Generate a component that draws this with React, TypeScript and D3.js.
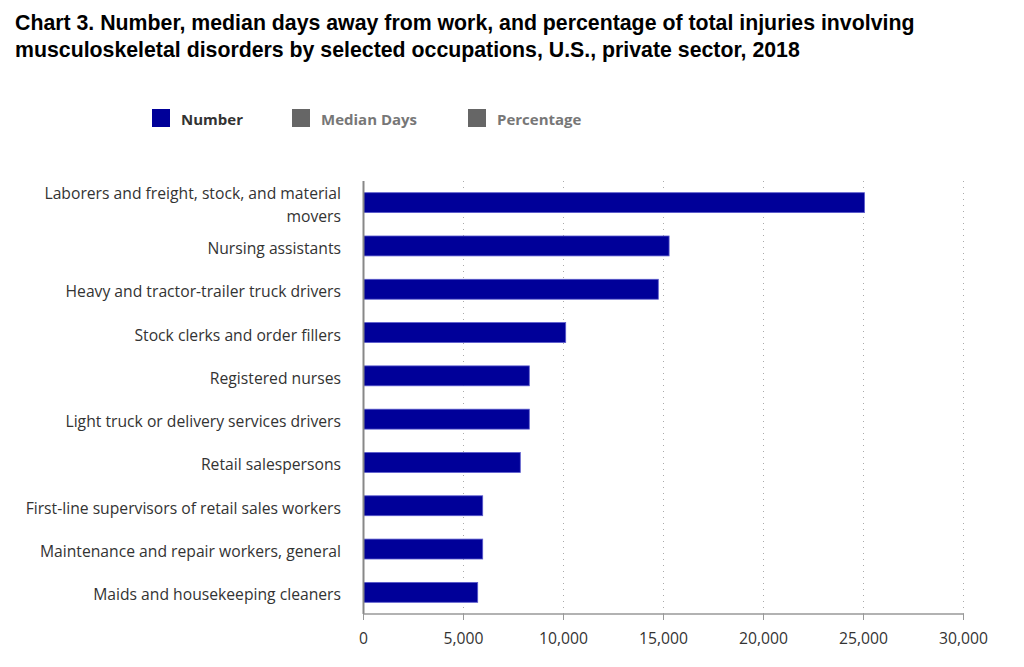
import React from "react";
import * as d3 from "d3";

const categories = [
  "Laborers and freight, stock, and material movers",
  "Nursing assistants",
  "Heavy and tractor-trailer truck drivers",
  "Stock clerks and order fillers",
  "Registered nurses",
  "Light truck or delivery services drivers",
  "Retail salespersons",
  "First-line supervisors of retail sales workers",
  "Maintenance and repair workers, general",
  "Maids and housekeeping cleaners",
];
const labelLines = [
  ["Laborers and freight, stock, and material", "movers"],
];
const numberValues = [25050, 15280, 14740, 10110, 8290, 8290, 7840, 5960, 5960, 5710];
const xTicks = [0, 5000, 10000, 15000, 20000, 25000, 30000];
const legendItems = ["Number", "Median Days", "Percentage"];
const titleLines = [
  "Chart 3. Number, median days away from work, and percentage of total injuries involving",
  "musculoskeletal disorders by selected occupations, U.S., private sector, 2018",
];

const W = 1024;
const H = 667;
const M = { left: 363.5, right: 963.5, top: 181, bottom: 614 };
const labelFont = "'Open Sans', 'Noto Sans', sans-serif";

export default function App() {
  const x = d3.scaleLinear().domain([0, 30000]).range([M.left, M.right]);
  const y = d3
    .scaleBand<string>()
    .domain(categories)
    .range([M.top, M.bottom])
    .paddingInner(0.54)
    .paddingOuter(0.27);
  const fmt = d3.format(",");
  const legendX = [152, 292, 468];

  return (
    <svg width={W} height={H} style={{ position: "absolute", left: 0, top: 0, background: "#fff" }}>
      {titleLines.map((t, i) => (
        <text
          key={i}
          x={15}
          y={30 + i * 27}
          fontFamily="'Liberation Sans', Arial, sans-serif"
          fontWeight="bold"
          fontSize={21.3}
          fill="#000"
        >
          {t}
        </text>
      ))}

      {legendItems.map((l, i) => (
        <g key={l}>
          <rect x={legendX[i]} y={109} width={18} height={18} fill={i === 0 ? "#000099" : "#666666"} />
          <text
            x={legendX[i] + 29}
            y={125}
            fontFamily={labelFont}
            fontWeight="bold"
            fontSize={15}
            fill={i === 0 ? "#333" : "#777"}
          >
            {l}
          </text>
        </g>
      ))}

      {xTicks.slice(1).map((t) => (
        <line
          key={t}
          x1={x(t)}
          x2={x(t)}
          y1={M.top}
          y2={M.bottom}
          stroke="#aaa"
          strokeWidth={1}
          strokeDasharray="1,5"
        />
      ))}

      {categories.map((c, i) => (
        <rect
          key={c}
          x={x(0)}
          y={y(c)!}
          width={x(numberValues[i]) - x(0)}
          height={y.bandwidth()}
          fill="#000099"
          stroke="#5a5acc"
          strokeWidth={0.8}
        />
      ))}

      <line x1={M.left} x2={M.left} y1={M.top} y2={M.bottom} stroke="#888" strokeWidth={2} />
      <line x1={M.left} x2={M.right} y1={M.bottom} y2={M.bottom} stroke="#999" strokeWidth={1.5} />

      {xTicks.map((t) => (
        <g key={t}>
          <line x1={x(t)} x2={x(t)} y1={M.bottom} y2={M.bottom + 6} stroke="#999" strokeWidth={1} />
          <text
            x={x(t)}
            y={M.bottom + 30}
            textAnchor="middle"
            fontFamily={labelFont}
            fontSize={15.7}
            fill="#333"
          >
            {fmt(t)}
          </text>
        </g>
      ))}

      {categories.map((c, i) => {
        const cy = y(c)! + y.bandwidth() / 2;
        const lines = i === 0 ? labelLines[0] : [c];
        const off = ((lines.length - 1) * 23) / 2;
        return (
          <text
            key={c}
            textAnchor="end"
            fontFamily={labelFont}
            fontSize={15.7}
            fill="#333"
          >
            {lines.map((ln, j) => (
              <tspan key={j} x={341} y={cy - off + j * 23 + 8}>
                {ln}
              </tspan>
            ))}
          </text>
        );
      })}
    </svg>
  );
}
